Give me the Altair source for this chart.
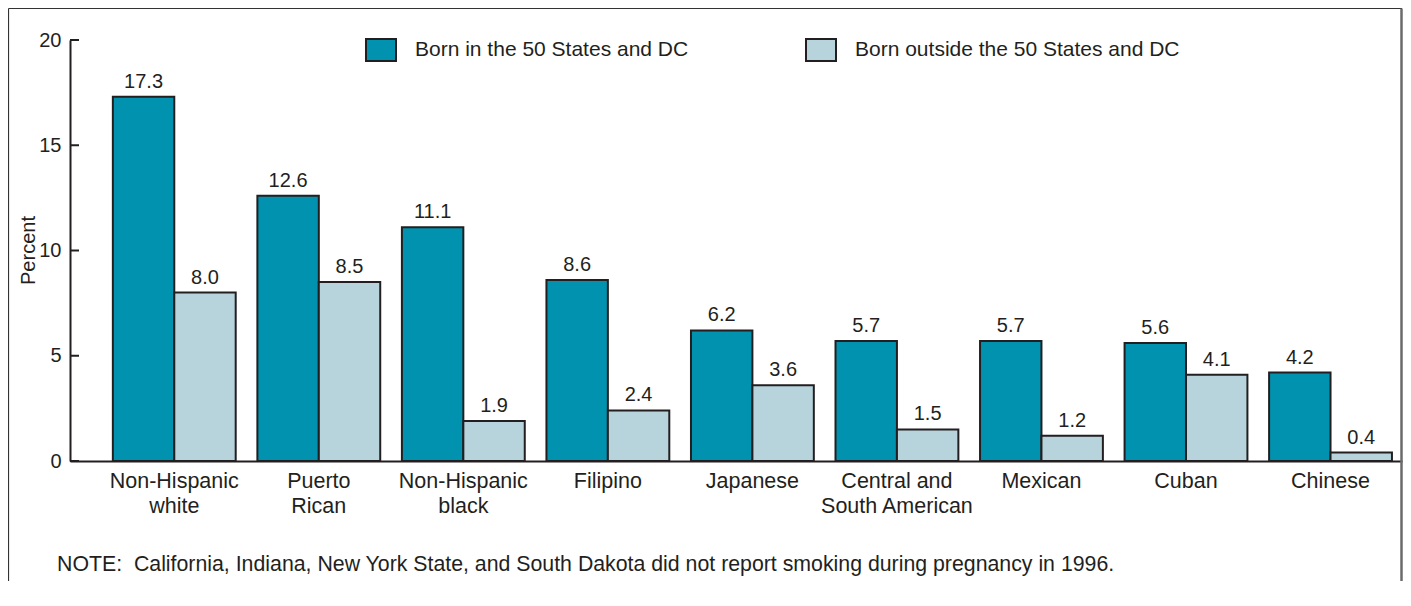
import altair as alt
import pandas as pd

# ---- data ----
categories = ["Non-Hispanic|white", "Puerto|Rican", "Non-Hispanic|black", "Filipino",
              "Japanese", "Central and|South American", "Mexican", "Cuban", "Chinese"]
series = ["Born in the 50 States and DC", "Born outside the 50 States and DC"]
born_in = [17.3, 12.6, 11.1, 8.6, 6.2, 5.7, 5.7, 5.6, 4.2]
born_out = [8.0, 8.5, 1.9, 2.4, 3.6, 1.5, 1.2, 4.1, 0.4]
y_ticks = [0, 5, 10, 15, 20]
note = ("NOTE:\u00a0\u00a0California, Indiana, New York State, and South Dakota did not report "
        "smoking during pregnancy in 1996.")

rows = []
for c, a, b in zip(categories, born_in, born_out):
    rows.append({"cat": c, "series": series[0], "value": a, "label": f"{a:.1f}"})
    rows.append({"cat": c, "series": series[1], "value": b, "label": f"{b:.1f}"})
df = pd.DataFrame(rows)

FONT = "Liberation Sans"
INK = "#231f20"
TEAL = "#0092ae"
LIGHT = "#b7d3dc"

x_scale = alt.Scale(paddingInner=0.15, paddingOuter=0.183, align=0.81)
x_axis = alt.Axis(title=None, labelExpr="split(datum.label, '|')", labelAngle=0,
                  ticks=False, domainColor=INK, domainWidth=2, labelFontSize=21.5,
                  labelColor=INK, labelPadding=9, labelLineHeight=25, labelFont=FONT,
                  labelBaseline="top")
y_scale = alt.Scale(domain=[0, 20], nice=False)
y_axis = alt.Axis(title="Percent", values=y_ticks, ticks=False, tickSize=0, grid=False,
                  domainColor=INK, domainWidth=2, labelFontSize=20, labelColor=INK,
                  labelFont=FONT, labelPadding=9, titleFont=FONT, titleFontSize=20,
                  titleFontWeight="normal", titleColor=INK, titleX=-42, titleY=210,
                  titleAngle=270, titleBaseline="middle", titleAlign="center")

xoff = alt.XOffset("series:N", sort=series, scale=alt.Scale(paddingInner=0, paddingOuter=0))

bars = alt.Chart(df).mark_bar(stroke=INK, strokeWidth=2).encode(
    x=alt.X("cat:N", sort=categories, scale=x_scale, axis=x_axis),
    xOffset=xoff,
    y=alt.Y("value:Q", scale=y_scale, axis=y_axis),
    color=alt.Color("series:N", sort=series,
                    scale=alt.Scale(domain=series, range=[TEAL, LIGHT]),
                    legend=alt.Legend(title=None, orient="none", legendX=295, legendY=-6,
                                      direction="horizontal", columns=2, columnPadding=113,
                                      symbolType="M-1,-0.733L1,-0.733L1,0.733L-1,0.733Z",
                                      symbolSize=900, symbolStrokeColor=INK,
                                      symbolStrokeWidth=2, symbolOpacity=1,
                                      labelFontSize=21, labelFont=FONT, labelColor=INK,
                                      labelOffset=18, labelLimit=500)),
)

labels = alt.Chart(df).mark_text(baseline="alphabetic", dy=-9, fontSize=20, font=FONT,
                                 color=INK).encode(
    x=alt.X("cat:N", sort=categories),
    xOffset=xoff,
    y=alt.Y("value:Q"),
    text="label:N",
)

ticks = alt.Chart(pd.DataFrame({"value": y_ticks})).mark_rule(color=INK, strokeWidth=2).encode(
    y=alt.Y("value:Q"), x=alt.value(0), x2=alt.value(9)
)

one = pd.DataFrame({"k": [0]})
frame_left = alt.Chart(one).mark_rule(color="#333333", strokeWidth=1.2).encode(
    x=alt.value(-61.5), y=alt.value(-31.5), y2=alt.value(600))
frame_top = alt.Chart(one).mark_rule(color="#333333", strokeWidth=1.2).encode(
    x=alt.value(-61.5), x2=alt.value(1332), y=alt.value(-31.5))
frame_right = alt.Chart(one).mark_rule(color="#6b6b6b", strokeWidth=2.5).encode(
    x=alt.value(1331.5), y=alt.value(-31.5), y2=alt.value(600))

note_text = alt.Chart(pd.DataFrame({"t": [note]})).mark_text(
    align="left", baseline="alphabetic", fontSize=21.3, font=FONT, color=INK
).encode(x=alt.value(-13), y=alt.value(531), text="t:N")

chart = alt.layer(bars, labels, ticks, frame_left, frame_top, frame_right, note_text).properties(
    width=1332, height=421,
    autosize=alt.AutoSizeParams(type="none"),
    padding={"left": 62, "top": 32, "right": 1, "bottom": 120},
).configure_view(stroke=None)

chart.save("out.html", embed_options={"renderer": "svg", "actions": False})
